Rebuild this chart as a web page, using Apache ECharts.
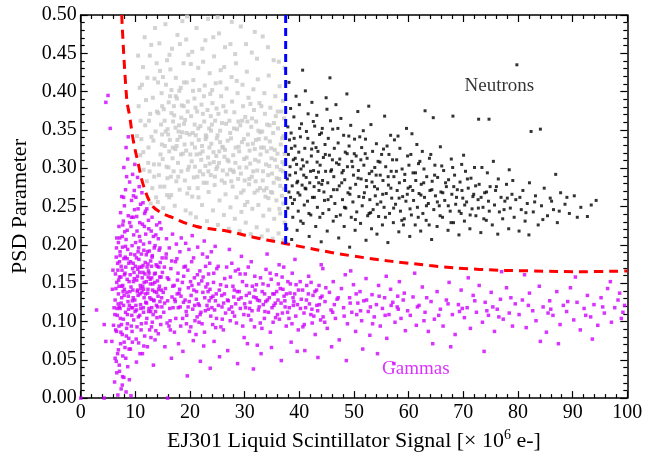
<!DOCTYPE html>
<html><head><meta charset="utf-8">
<script src="https://cdn.jsdelivr.net/npm/echarts@6/dist/echarts.min.js"></script>
<style>html,body{margin:0;padding:0;background:#fff}#c{width:651px;height:457px}</style>
</head><body><div id="c"></div>
<script>
// Gamma events (magenta)
var gammas = [[0,0],[4.3,0],[15.9,0],[2.9,.115],[4.3,.096],[4.6,.074],
[6.2,.021],[6.5,.048],[6.8,.004],[7.1,.035],[7.4,.012],[7.9,.027],[8.3,.008],[8.6,.041],[6.9,.063],[7.3,.071],[7.7,.055],[8.1,.066],[8.8,.078],[6.4,.089],[7.0,.094],[7.6,.083],[8.4,.091],[6.7,.108],[7.2,.117],[7.8,.103],[8.2,.112],[8.9,.121],[6.3,.128],[6.9,.136],[7.5,.131],[8.0,.142],[8.7,.133],[6.6,.151],[7.1,.158],[7.7,.147],[8.5,.155],[6.8,.167],[7.4,.172],[8.1,.163],[8.8,.176],[6.5,.184],[7.2,.191],[7.9,.182],[8.6,.194],[6.9,.203],[7.6,.211],[8.3,.207],[7.0,.224],[7.8,.231],[8.5,.219],[7.3,.242],[8.0,.251],[8.7,.238],[7.5,.263],[8.2,.272],[8.4,.289],[7.9,.301],[8.6,.312],[8.3,.327],[8.7,.341],[5.4,.352],[4.6,.386],[5.0,.395],[6.1,.118],[5.8,.142],[5.9,.167],[6.0,.095],[5.7,.074],[6.3,.052],[7.6,.017],[8.9,.024],[9.2,.003],[6.6,.033],[7.2,.186],[7.0,.146],[7.4,.124],[6.6,.209],[8.2,.198],[7.7,.226],
[9.1,.064],[9.4,.087],[9.7,.102],[9.3,.118],[9.6,.131],[9.2,.145],[9.8,.156],[9.5,.169],[9.1,.178],[9.9,.187],[9.4,.199],[9.7,.213],[9.2,.224],[9.6,.236],[9.3,.258],[9.8,.271],[9.5,.292],[9.9,.305],
[10.2,.047],[10.6,.072],[10.3,.093],[10.8,.108],[10.1,.121],[10.5,.134],[10.9,.147],[10.4,.159],[10.7,.171],[10.2,.183],[10.6,.196],[10.9,.205],[10.3,.218],[10.8,.229],[10.5,.247],[10.1,.262],[10.7,.276],[10.4,.288],
[11.3,.058],[11.7,.081],[11.1,.097],[11.5,.112],[11.9,.125],[11.2,.138],[11.6,.151],[11.4,.164],[11.8,.177],[11.1,.188],[11.5,.201],[11.9,.214],[11.3,.227],[11.7,.241],[11.4,.255],[11.2,.268],
[12.2,.067],[12.6,.089],[12.1,.104],[12.5,.117],[12.9,.129],[12.3,.142],[12.7,.155],[12.4,.166],[12.8,.179],[12.2,.191],[12.6,.203],[12.9,.218],[12.4,.232],[12.1,.247],
[13.3,.043],[13.6,.076],[13.1,.099],[13.7,.113],[13.4,.127],[13.9,.138],[13.2,.149],[13.5,.162],[13.8,.174],[13.1,.186],[13.6,.199],[13.3,.211],[13.9,.226],
[14.2,.084],[14.6,.106],[14.1,.119],[14.8,.131],[14.4,.146],[14.7,.158],[14.3,.171],[14.9,.183],[14.5,.196],[14.2,.208],[14.7,.221],
[9.3,.236],[10.4,.141],[11.6,.131],[12.8,.113],[9.9,.128],[10.8,.164],[11.4,.173],[12.0,.152],[13.0,.118],[9.6,.176],[10.2,.115],[11.0,.143],[12.3,.175],
[6.45,.143],[6.75,.176],[7.05,.119],[7.35,.158],[7.65,.197],[7.95,.134],[8.25,.171],[8.55,.109],[8.85,.152],[9.15,.188],[9.45,.127],[9.75,.164],[10.05,.203],[10.35,.139],[10.65,.181],[10.95,.122],[11.25,.157],[11.55,.193],[11.85,.136],[12.15,.171],[12.45,.113],[12.75,.149],[13.05,.184],[13.35,.128],[13.65,.163],[13.95,.105],[14.25,.142],[14.55,.177],[14.85,.119],
[6.55,.087],[6.85,.123],[7.15,.209],[7.45,.096],[7.75,.139],[8.05,.217],[8.35,.081],[8.65,.126],[8.95,.229],[9.25,.094],[9.55,.141],[9.85,.246],[10.15,.077],[10.45,.168],[10.75,.211],[11.05,.089],[11.35,.146],[11.65,.224],[11.95,.098],[12.25,.137],[12.55,.192],[12.85,.079],[13.15,.141],[13.45,.196],[13.75,.088],[14.05,.153],[14.35,.193],[14.65,.096],[14.95,.164],
[6.35,.162],[6.65,.117],[6.95,.154],[7.25,.104],[7.55,.167],[7.85,.121],[8.15,.184],[8.45,.138],[8.75,.116],[9.05,.161],[9.35,.108],[9.65,.152],[9.95,.113],[10.25,.154],[10.55,.106],[10.85,.136],[11.15,.171],[11.45,.118],[11.75,.162],[12.05,.124],[12.35,.158],[12.65,.131],[12.95,.172],[13.25,.109],[13.55,.151],[13.85,.121],[14.15,.133],[14.45,.158],[14.75,.141],
[6.75,.058],[7.05,.043],[7.35,.086],[7.65,.028],[7.95,.073],[8.25,.052],[8.55,.097],[8.85,.064],[9.45,.073],[10.85,.058],[11.55,.068],[12.95,.093],[6.25,.109],[6.55,.196],[7.85,.262],[8.95,.282],[9.65,.264],[10.25,.237],[10.95,.253],[11.85,.244],[12.45,.221],[13.05,.236],[13.75,.213],[14.45,.229],
[7.1,.178],[8.0,.161],[9.0,.139],[10.0,.172],[11.0,.117],[12.0,.187],[13.0,.157],[14.0,.172],[7.5,.146],[8.5,.182],[9.5,.118],[10.5,.191],[11.5,.142],[12.5,.163],[13.5,.139],[14.5,.126],
[15.2,.112],[15.5,.143],[15.8,.098],[15.3,.171],[15.9,.127],[16.1,.155],[16.4,.089],[16.7,.132],[16.2,.196],[16.9,.118],[17.1,.147],[17.4,.104],[17.8,.163],[17.3,.126],[17.6,.182],[18.0,.137],[18.3,.094],[18.6,.151],[18.2,.119],[18.9,.171],[19.1,.128],[19.4,.108],[19.7,.144],[19.2,.202],[19.9,.087],[20.2,.134],[20.5,.116],[20.8,.157],[20.3,.178],[20.9,.101],[21.2,.139],[21.5,.123],[21.8,.166],[21.1,.083],[21.6,.149],[22.0,.112],[22.3,.188],[22.7,.131],[22.2,.097],[22.9,.145],[23.1,.121],[23.4,.162],[23.8,.107],[23.3,.139],[23.6,.176],[24.0,.118],[24.3,.151],[24.7,.092],[24.2,.133],[24.9,.169],
[15.4,.067],[16.6,.052],[17.9,.071],[18.7,.061],[19.5,.029],[20.6,.075],[21.9,.048],[22.5,.068],[23.7,.039],[24.4,.074],[15.7,.208],[16.8,.214],[17.5,.201],[18.4,.209],[19.8,.194],[20.4,.212],[21.4,.197],[22.6,.205],[23.9,.191],[24.6,.198],[15.1,.138],[16.3,.117],[17.2,.129],[18.1,.142],[19.3,.113],[20.1,.152],[21.3,.106],[22.4,.158],[23.5,.127],[24.5,.115],[15.6,.183],[16.5,.169],[17.7,.154],[18.8,.125],[19.6,.167],[20.7,.141],[21.7,.121],[22.8,.114],[23.2,.149],[24.8,.136],
[15.35,.124],[15.85,.157],[16.35,.101],[16.85,.146],[17.35,.178],[17.85,.118],[18.35,.133],[18.85,.159],[19.35,.097],[19.85,.126],[20.35,.147],[20.85,.121],[21.35,.161],[21.85,.109],[22.35,.138],[22.85,.172],[23.35,.116],[23.85,.131],[24.35,.163],[24.85,.104],[25.35,.141],[25.85,.119],[26.35,.156],[26.85,.128],[27.35,.101],[27.85,.146],[28.35,.123],[28.85,.168],[29.35,.131],[29.85,.109],[30.35,.147],[30.85,.137],[31.35,.114],[31.85,.159],[32.35,.128],[32.85,.098],[33.35,.149],[33.85,.126],[34.35,.112],[34.85,.155],[35.35,.121],[35.85,.139],[36.35,.103],[36.85,.158],[37.35,.127],[37.85,.112],[38.35,.149],[38.85,.131],[39.35,.107],[39.85,.141],[40.35,.129],[40.85,.111],[41.35,.147],[41.85,.123],[42.35,.098],[42.85,.139],[43.35,.114],[43.85,.131],[44.35,.106],[44.85,.144],
[15.65,.188],[16.15,.094],[16.65,.179],[17.15,.086],[17.65,.136],[18.15,.191],[18.65,.104],[19.15,.172],[19.65,.119],[20.15,.093],[20.65,.183],[21.15,.129],[21.65,.099],[22.15,.153],[22.65,.086],[23.15,.184],[23.65,.142],[24.15,.096],[24.65,.127],[25.15,.172],[25.65,.093],[26.15,.124],[26.65,.146],[27.15,.116],[27.65,.176],[28.15,.107],[28.65,.139],[29.15,.162],[29.65,.094],[30.15,.118],[30.65,.171],[31.15,.102],[31.65,.132],[32.15,.148],[32.65,.119],[33.15,.091],[33.65,.136],[34.15,.128],[34.65,.163],[35.15,.136],[35.65,.105],[36.15,.149],[36.65,.124],[37.15,.171],[37.65,.136],[38.15,.118],[38.65,.097],[39.15,.136],[39.65,.122],[40.15,.152],[40.65,.093],[41.15,.118],[41.65,.136],[42.15,.151],[42.65,.107],[43.15,.141],[43.65,.122],[44.15,.133],[44.65,.099],
[25.2,.121],[25.6,.148],[25.9,.103],[26.3,.136],[26.7,.171],[26.1,.089],[27.0,.127],[27.4,.158],[27.8,.112],[27.2,.194],[28.1,.141],[28.5,.098],[28.9,.129],[28.3,.166],[29.2,.117],[29.6,.152],[29.9,.079],[29.4,.185],[30.3,.134],[30.7,.108],[30.1,.162],[31.0,.125],[31.4,.146],[31.8,.093],[31.2,.178],[32.1,.131],[32.5,.115],[32.9,.157],[32.3,.069],[33.2,.139],[33.6,.104],[33.9,.168],[33.4,.122],[34.3,.147],[34.7,.086],[34.1,.188],[35.0,.118],[35.4,.136],[35.8,.161],[35.2,.099],[36.1,.128],[36.5,.143],[36.9,.111],[36.3,.174],[37.2,.133],[37.6,.094],[37.9,.152],[37.4,.119],[38.3,.137],[38.7,.163],[38.1,.104],[39.0,.126],[39.4,.148],[39.8,.089],[39.2,.181],
[25.4,.054],[26.9,.062],[28.7,.045],[30.5,.071],[31.6,.038],[33.0,.058],[34.9,.066],[36.7,.049],[38.5,.073],[39.6,.061],[25.8,.134],[27.6,.119],[29.0,.139],[30.9,.117],[32.7,.127],[34.5,.131],[36.0,.109],[37.0,.142],[38.9,.121],[26.5,.111],[28.0,.132],[30.0,.123],[31.9,.141],[33.7,.113],[35.6,.124],
[40.2,.117],[40.6,.141],[40.9,.096],[41.3,.128],[41.7,.159],[42.1,.109],[42.5,.134],[42.9,.083],[43.2,.121],[43.6,.147],[43.9,.102],[44.3,.169],[44.7,.126],[45.1,.091],[45.5,.138],[45.8,.115],[46.2,.152],[46.6,.104],[46.9,.129],[47.3,.076],[47.7,.143],[48.1,.118],[48.4,.161],[48.8,.097],[49.2,.131],[49.6,.112],[49.9,.148],[50.3,.087],[50.7,.124],[51.1,.139],[51.4,.101],[51.8,.127],[52.2,.156],[52.6,.113],[52.9,.082],[53.3,.135],[53.7,.106],[54.1,.122],[54.5,.147],[54.8,.094],[55.2,.117],[55.6,.131],[56.0,.078],[56.4,.109],[56.7,.142],[57.1,.125],[57.5,.099],[57.9,.119],[58.3,.152],[58.6,.104],[59.0,.128],[59.4,.088],[59.8,.114],
[41.0,.062],[43.4,.053],[45.9,.067],[48.6,.049],[51.6,.064],[54.3,.058],[57.3,.045],[44.0,.174],[49.4,.166],[55.9,.159],[42.3,.116],[46.4,.122],[50.5,.109],[53.0,.119],[58.0,.133],
[46.1,.112],[47.1,.131],[48.2,.107],[49.3,.124],[50.4,.136],[51.2,.114],[52.3,.128],[53.4,.097],[54.6,.133],[55.7,.108],[56.8,.121],[58.1,.116],[59.2,.137],[61.6,.119],[63.3,.131],[65.5,.108],[67.2,.123],[69.8,.117],[72.1,.127],[74.3,.114],[76.5,.106],[78.7,.131],[81.9,.121],[85.5,.111],[89.1,.126],[92.4,.108],[95.5,.119],[98.6,.137],
[60.3,.108],[60.8,.132],[61.4,.095],[61.9,.121],[62.5,.145],[63.0,.112],[63.6,.087],[64.1,.126],[64.7,.103],[65.2,.139],[65.8,.116],[66.3,.094],[66.9,.128],[67.4,.151],[68.0,.109],[68.5,.083],[69.1,.122],[69.6,.141],[70.2,.105],[70.7,.118],[71.3,.091],[71.8,.134],[72.4,.112],[72.9,.147],[73.5,.099],[74.0,.125],[74.6,.108],[75.1,.138],[75.7,.087],[76.2,.116],[76.8,.129],[77.3,.103],[77.9,.144],[78.4,.111],[79.0,.094],[79.5,.123],
[61.1,.163],[64.4,.071],[67.7,.067],[70.9,.157],[73.8,.061],[77.0,.165],[62.8,.101],[69.3,.113],[75.4,.119],
[80.2,.109],[80.8,.128],[81.5,.092],[82.1,.137],[82.7,.114],[83.3,.101],[83.9,.146],[84.6,.119],[85.2,.086],[85.8,.127],[86.4,.108],[87.1,.139],[87.7,.096],[88.3,.121],[88.9,.113],[89.6,.144],[90.2,.102],[90.8,.125],[91.4,.089],[92.1,.117],[92.7,.134],[93.3,.106],[93.9,.122],[94.6,.095],[95.2,.131],[95.8,.111],[96.4,.143],[97.1,.099],[97.7,.118],[98.3,.128],[98.9,.104],[99.5,.121],
[81.2,.161],[84.1,.074],[87.4,.071],[90.5,.158],[93.6,.077],[96.9,.152],[99.2,.112],[86.0,.116]];

// Events left of the energy cut (grey)
var lowEnergy = [[10.3,.342],[10.6,.381],[10.9,.317],[11.2,.409],[10.5,.447],[11.5,.298],[11.8,.356],[11.4,.432],[12.1,.283],[12.4,.327],[12.7,.371],[12.2,.418],[12.9,.461],[13.1,.274],[13.4,.305],[13.7,.348],[13.2,.392],[13.9,.437],[13.6,.483],[12.6,.296],[11.1,.338],[12.8,.254],[13.8,.262],[11.7,.471],[10.8,.405],[13.3,.336],[12.5,.362],[13.5,.417],
[14.1,.256],[14.3,.291],[14.6,.318],[14.9,.344],[14.2,.372],[14.8,.398],[14.5,.427],[14.4,.463],[15.1,.248],[15.3,.276],[15.7,.302],[15.4,.329],[15.9,.351],[15.2,.377],[15.6,.409],[15.8,.441],[15.5,.488],[16.2,.262],[16.5,.289],[16.8,.313],[16.3,.337],[16.9,.361],[16.1,.386],[16.6,.402],[16.4,.429],[16.7,.456],[17.2,.251],[17.5,.283],[17.8,.307],[17.3,.325],[17.9,.348],[17.1,.369],[17.6,.391],[17.4,.418],[17.7,.474],[18.1,.272],[18.4,.296],[18.7,.319],[18.2,.341],[18.9,.358],[18.5,.382],[18.3,.405],[18.8,.437],[18.6,.492],[19.2,.245],[19.5,.267],[19.8,.302],[19.3,.323],[19.9,.344],[19.1,.363],[19.6,.387],[19.4,.412],[19.7,.448],[15.0,.312],[16.0,.344],[17.0,.296],[18.0,.356],[19.0,.331],[14.7,.357],[16.6,.372],[17.7,.337],[18.4,.366],[19.6,.298],[15.8,.265],[17.4,.394],[18.9,.412],[16.2,.322],[14.9,.381],[19.3,.468],
[20.1,.241],[20.4,.263],[20.7,.288],[20.3,.309],[20.9,.327],[20.5,.346],[20.2,.368],[20.8,.391],[20.6,.415],[20.4,.452],[21.1,.236],[21.4,.274],[21.8,.296],[21.2,.318],[21.6,.337],[21.9,.355],[21.3,.374],[21.7,.402],[21.5,.431],[21.2,.483],[22.2,.252],[22.5,.281],[22.8,.303],[22.3,.322],[22.9,.343],[22.6,.361],[22.1,.383],[22.7,.408],[22.4,.439],[22.8,.467],[23.1,.231],[23.4,.269],[23.8,.291],[23.3,.314],[23.9,.332],[23.5,.352],[23.2,.376],[23.7,.397],[23.6,.424],[23.3,.495],[24.2,.245],[24.5,.278],[24.8,.299],[24.3,.321],[24.9,.339],[24.6,.362],[24.1,.385],[24.7,.411],[24.4,.446],[25.1,.226],[25.4,.258],[25.8,.284],[25.3,.307],[25.9,.328],[25.5,.349],[25.2,.371],[25.7,.394],[25.6,.428],[25.3,.476],[26.2,.239],[26.5,.266],[26.8,.292],[26.3,.315],[26.9,.336],[26.6,.358],[26.1,.381],[26.7,.404],[26.4,.458],[20.9,.302],[21.5,.352],[22.4,.292],[23.0,.341],[23.6,.306],[24.0,.357],[24.8,.316],[25.5,.334],[26.0,.297],[21.0,.379],[22.2,.329],[23.8,.368],[25.0,.302],[26.4,.324],
[27.1,.221],[27.4,.249],[27.8,.276],[27.3,.298],[27.9,.317],[27.5,.339],[27.2,.362],[27.7,.387],[27.6,.419],[27.4,.462],[28.2,.234],[28.5,.262],[28.8,.286],[28.3,.307],[28.9,.328],[28.6,.351],[28.1,.373],[28.7,.398],[28.4,.437],[29.1,.218],[29.4,.243],[29.8,.271],[29.3,.293],[29.9,.312],[29.5,.334],[29.2,.356],[29.7,.381],[29.6,.409],[29.3,.485],[30.2,.229],[30.5,.256],[30.8,.279],[30.3,.301],[30.9,.323],[30.6,.344],[30.1,.367],[30.7,.392],[30.4,.426],[31.1,.214],[31.4,.247],[31.8,.268],[31.3,.289],[31.9,.311],[31.5,.332],[31.2,.354],[31.7,.376],[31.6,.403],[31.3,.451],[32.2,.223],[32.5,.252],[32.8,.274],[32.3,.297],[32.9,.318],[32.6,.338],[32.1,.361],[32.7,.385],[32.4,.416],[33.1,.211],[33.4,.238],[33.8,.263],[33.3,.284],[33.9,.305],[33.5,.327],[33.2,.348],[33.7,.371],[33.6,.398],[33.3,.472],[34.2,.219],[34.5,.246],[34.8,.269],[34.3,.291],[34.9,.313],[34.6,.335],[34.1,.357],[34.7,.379],[34.4,.421],[35.1,.208],[35.4,.234],[35.8,.258],[35.3,.281],[35.9,.302],[35.5,.324],[35.2,.346],[35.7,.368],[35.6,.394],[35.3,.441],[36.2,.215],[36.5,.241],[36.8,.264],[36.3,.286],[36.9,.308],[36.6,.331],[36.1,.352],[36.7,.374],[36.4,.407],[37.1,.206],[37.3,.229],[37.2,.273],[37.0,.296],[37.3,.319],[37.1,.342],[37.2,.365],[37.0,.388],[37.3,.431],[28.0,.295],[29.0,.322],[30.0,.284],[31.0,.306],[32.0,.283],[33.0,.327],[34.0,.274],[35.0,.293],[36.0,.319],[30.5,.361],[32.5,.349],[34.5,.303],[36.5,.277],
[14.35,.305],[14.85,.331],[15.35,.362],[15.85,.287],[16.35,.394],[16.85,.327],[17.35,.353],[17.85,.289],[18.35,.318],[18.85,.381],[19.35,.346],[19.85,.274],[20.35,.332],[20.85,.357],[21.35,.289],[21.85,.319],[22.35,.371],[22.85,.338],[23.35,.296],[23.85,.349],[24.35,.308],[24.85,.378],[25.35,.322],[25.85,.359],[26.35,.281],[26.85,.311],[27.35,.346],[27.85,.297],[28.35,.327],[28.85,.361],[29.35,.268],[29.85,.338],[30.35,.314],[30.85,.286],[31.35,.365],[31.85,.325],[32.35,.271],[32.85,.347],[33.35,.296],[33.85,.339],[34.35,.261],[34.85,.326],[35.35,.359],[35.85,.287],[36.35,.247],[36.85,.339],[37.25,.305],
[14.55,.276],[15.05,.419],[15.55,.348],[16.05,.301],[16.55,.265],[17.05,.381],[17.55,.329],[18.05,.401],[18.55,.347],[19.05,.284],[19.55,.374],[20.05,.318],[20.55,.401],[21.05,.343],[21.55,.262],[22.05,.311],[22.55,.394],[23.05,.281],[23.55,.327],[24.05,.402],[24.55,.289],[25.05,.343],[25.55,.412],[26.05,.327],[26.55,.374],[27.05,.309],[27.55,.283],[28.05,.352],[28.55,.414],[29.05,.301],[29.55,.362],[30.05,.252],[30.55,.331],[31.05,.384],[31.55,.296],[32.05,.337],[32.55,.309],[33.05,.381],[33.55,.271],[34.05,.322],[34.55,.356],[35.05,.268],[35.55,.311],[36.05,.374],[36.55,.298],[37.05,.254],
[12.35,.307],[12.95,.341],[13.45,.289],[13.95,.374],[11.95,.389],[11.45,.321],[10.95,.362],[12.65,.447],[14.15,.412],[16.25,.448],[18.15,.462],[20.15,.436],[22.25,.456],[24.25,.471],[26.25,.432],[28.25,.449],[30.25,.462],[32.25,.443],[34.25,.458],[36.25,.439],[19.45,.498],[27.65,.491],[31.85,.478],[25.05,.497]];

// Neutron events (black)
var neutrons = [[37.7,.221],[37.9,.248],[38.1,.269],[37.8,.286],[38.3,.302],[38.0,.318],[38.2,.337],[37.9,.354],[38.4,.378],[38.1,.412],[38.6,.207],[38.8,.236],[39.1,.259],[38.7,.277],[39.3,.294],[38.9,.311],[39.2,.329],[38.5,.346],[39.0,.367],[39.4,.394],[39.6,.219],[39.8,.244],[40.1,.265],[39.7,.283],[40.3,.299],[39.9,.321],[40.2,.341],[40.4,.358],[40.0,.383],[40.6,.428],[40.7,.228],[40.9,.252],[41.2,.273],[40.8,.291],[41.4,.308],[41.0,.326],[41.3,.348],[41.6,.371],[41.1,.401],[41.8,.211],[42.1,.239],[42.4,.262],[41.9,.281],[42.6,.297],[42.2,.316],[42.5,.333],[42.8,.355],[42.3,.386],[43.0,.224],[43.3,.249],[43.6,.271],[43.1,.288],[43.8,.304],[43.4,.322],[43.7,.344],[43.2,.369],[44.0,.204],[44.3,.241],[44.6,.258],[44.1,.279],[44.8,.296],[44.4,.314],[44.7,.331],[44.2,.352],[44.9,.392],[38.4,.262],[39.5,.305],[40.5,.278],[41.5,.257],[42.7,.276],[43.5,.295],[44.5,.269],
[45.1,.218],[45.4,.246],[45.8,.263],[45.2,.281],[45.9,.298],[45.5,.317],[45.3,.339],[45.7,.362],[45.6,.418],[46.2,.231],[46.5,.254],[46.9,.272],[46.3,.289],[46.8,.307],[46.4,.326],[46.1,.351],[46.7,.383],[47.2,.209],[47.5,.239],[47.9,.259],[47.3,.277],[47.8,.294],[47.4,.312],[47.1,.333],[47.6,.365],[48.2,.224],[48.5,.248],[48.9,.268],[48.3,.285],[48.8,.302],[48.4,.321],[48.1,.343],[48.7,.397],[49.2,.197],[49.5,.236],[49.8,.256],[49.3,.274],[49.9,.291],[49.6,.309],[49.1,.329],[49.4,.356],[50.2,.219],[50.5,.243],[50.9,.263],[50.3,.279],[50.8,.297],[50.4,.316],[50.1,.338],[50.7,.374],[51.2,.228],[51.5,.251],[51.9,.268],[51.3,.286],[51.8,.304],[51.4,.327],[51.7,.349],[52.2,.206],[52.5,.238],[52.9,.259],[52.3,.276],[52.8,.293],[52.4,.313],[52.1,.338],[52.7,.381],[53.2,.221],[53.5,.246],[53.9,.264],[53.3,.282],[53.8,.301],[53.4,.322],[53.1,.357],[54.2,.214],[54.5,.237],[54.9,.256],[54.3,.273],[54.8,.291],[54.4,.309],[54.1,.332],[55.2,.226],[55.5,.249],[55.9,.267],[55.3,.284],[55.8,.302],[55.4,.325],[55.6,.368],[56.2,.203],[56.5,.241],[56.9,.261],[56.3,.278],[56.8,.296],[56.4,.318],[56.7,.343],[57.2,.229],[57.6,.253],[57.9,.271],[57.3,.289],[57.8,.311],[57.4,.337],[58.2,.217],[58.5,.244],[58.9,.263],[58.3,.281],[58.8,.299],[58.4,.326],[59.2,.234],[59.5,.257],[59.9,.274],[59.3,.292],[59.8,.316],[59.6,.352],
[60.2,.211],[60.5,.239],[60.9,.258],[60.3,.276],[60.8,.294],[60.4,.318],[60.6,.345],[61.2,.226],[61.6,.249],[61.9,.267],[61.3,.284],[61.8,.306],[61.5,.331],[62.2,.218],[62.6,.241],[62.9,.262],[62.3,.279],[62.8,.299],[62.5,.322],[63.2,.232],[63.6,.254],[63.9,.271],[63.3,.289],[63.8,.313],[63.0,.375],[64.2,.207],[64.6,.246],[64.9,.264],[64.3,.283],[64.8,.304],[64.5,.366],[65.2,.224],[65.6,.251],[65.9,.269],[65.3,.288],[65.8,.328],[66.2,.236],[66.6,.258],[66.9,.276],[66.4,.297],[67.2,.219],[67.6,.244],[67.9,.266],[67.3,.285],[67.8,.312],[68.1,.368],[68.2,.229],[68.6,.253],[68.9,.272],[68.4,.291],[69.2,.213],[69.6,.241],[69.9,.261],[69.4,.282],[69.7,.305],[70.2,.231],[70.6,.256],[70.9,.274],[70.4,.296],[71.2,.221],[71.6,.247],[71.9,.266],[71.4,.287],[72.8,.364],[72.3,.238],[72.7,.259],[72.9,.279],[73.2,.216],[73.6,.249],[73.9,.268],[73.4,.301],[74.7,.364],[74.2,.232],[74.6,.257],[74.9,.276],[74.4,.294],
[75.3,.226],[75.7,.252],[75.9,.271],[75.5,.309],[76.3,.214],[76.6,.243],[76.9,.262],[76.4,.286],[77.2,.234],[77.6,.257],[77.9,.279],[78.3,.221],[78.6,.248],[78.9,.266],[78.4,.298],[79.3,.236],[79.6,.259],[79.8,.435],[80.2,.218],[80.6,.246],[80.9,.271],[81.3,.231],[81.7,.254],[82.1,.281],[82.4,.348],[82.8,.243],[83.2,.264],[83.7,.226],[84.1,.351],[84.3,.251],[84.8,.274],[85.4,.238],[85.9,.261],[86.5,.246],[87.2,.229],[87.8,.268],[88.6,.253],[89.4,.241],[90.3,.264],[91.5,.249],[92.7,.237],[94.3,.258],[86.9,.292],[82.0,.213],
[38.25,.291],[38.75,.254],[39.25,.313],[39.75,.268],[40.25,.231],[40.75,.303],[41.25,.288],[41.75,.241],[42.25,.325],[42.75,.262],[43.25,.308],[43.75,.236],[44.25,.284],[44.75,.318],[45.25,.259],[45.75,.296],[46.25,.272],[46.75,.237],[47.25,.305],[47.75,.281],[48.25,.249],[48.75,.319],[49.25,.266],[49.75,.302],[50.25,.233],[50.75,.287],[51.25,.311],[51.75,.262],[52.25,.284],[52.75,.241],[53.25,.296],[53.75,.276],[54.25,.253],[54.75,.308],[55.25,.266],[55.75,.236],[56.25,.289],[56.75,.274],[57.25,.248],[57.75,.296],[58.25,.261],[58.75,.232],[59.25,.284],[59.75,.266],[60.25,.247],[60.75,.271],[61.25,.294],[61.75,.236],[62.25,.265],[62.75,.281],[63.25,.251],[63.75,.226],[64.25,.272],[64.75,.291],[65.25,.256],[65.75,.238],[66.25,.268],[66.75,.281],[67.25,.251],[67.75,.229],[68.25,.276],[68.75,.262],[69.25,.244],[69.75,.271],[70.25,.252],[70.75,.286],[71.25,.239],[71.75,.263],[72.25,.277],[72.75,.248],[73.25,.262],[73.75,.234],[74.25,.269],[74.75,.244],
[38.55,.326],[39.05,.339],[39.55,.281],[40.05,.352],[40.55,.311],[41.05,.274],[41.55,.339],[42.05,.296],[42.55,.361],[43.05,.327],[43.55,.281],[44.05,.346],[45.05,.377],[46.05,.311],[47.05,.352],[48.05,.297],[49.05,.342],[50.05,.319],[51.05,.341],[52.05,.319],[53.05,.242],[54.05,.291],[55.05,.318],[56.05,.329],[57.05,.311],[58.05,.342],[59.05,.226],[60.05,.304],[62.05,.309],[64.05,.318],[66.05,.303],[68.05,.301],[70.05,.317],[72.05,.301],[76.05,.276],[77.45,.246],[78.05,.261],[79.05,.284],[80.35,.262],[81.45,.242],[83.05,.256],[84.55,.233],[86.15,.257],[87.55,.244],[88.95,.262],[90.85,.236],[93.4,.252]];

// Discrimination curve (red dashed) and energy cut (blue dashed)
var cutX = [7.5,8.4,9.0,9.6,10.5,11.5,13.0,14.5,16.3,21.2,26.7,31.6,36.5,49.3,63.9,73.0,82.2,92.0,100];
var cutY = [.500,.392,.366,.337,.307,.277,.252,.243,.237,.224,.218,.210,.203,.186,.173,.168,.166,.165,.166];
var energyCutX = [37.5,37.5];
var energyCutY = [.201,.500];

var xTicks = [0,10,20,30,40,50,60,70,80,90,100];
var yTicks = [0,.05,.10,.15,.20,.25,.30,.35,.40,.45,.50];
var labels = [{text:'Neutrons', x:76.6, y:.407, color:'#000000'},{text:'Gammas', x:61.3, y:.038, color:'#d000ff'}];

var FONT = 'Liberation Serif';
var chart = echarts.init(document.getElementById('c'), null, {renderer:'canvas'});
function zip(a,b){return a.map(function(v,i){return [v,b[i]];});}
var tickStyle = {show:true, inside:true, length:7, lineStyle:{color:'#000',width:1.2}};
var minorStyle = {show:true, splitNumber:5, length:4, lineStyle:{color:'#000',width:1.2}};
var lineSty = {show:true, onZero:false, lineStyle:{color:'#000', width:1.5}};
var option = {
  animation:false,
  backgroundColor:'#fff',
  grid:{left:80.7, top:15, right:23.7, bottom:49},
  xAxis:[{type:'value', min:xTicks[0], max:xTicks[xTicks.length-1], interval:10, position:'bottom',
    axisLine:lineSty, axisTick:tickStyle, minorTick:minorStyle, splitLine:{show:false},
    axisLabel:{fontFamily:FONT, fontSize:20, color:'#000', margin:5},
    name:'EJ301 Liquid Scintillator Signal [\u00d7 10{sup|6} e-]', nameLocation:'middle', nameGap:28,
    nameTextStyle:{fontFamily:FONT, fontSize:22, color:'#000', rich:{sup:{fontFamily:FONT, fontSize:14, color:'#000', padding:[0,0,12,0]}}}},
    {type:'value', min:xTicks[0], max:xTicks[xTicks.length-1], interval:10, position:'top',
    axisLine:lineSty, axisTick:tickStyle, minorTick:minorStyle, splitLine:{show:false}, axisLabel:{show:false}}],
  yAxis:[{type:'value', min:yTicks[0], max:yTicks[yTicks.length-1], interval:0.05, position:'left',
    axisLine:lineSty, axisTick:tickStyle, minorTick:minorStyle, splitLine:{show:false},
    axisLabel:{fontFamily:FONT, fontSize:20, color:'#000', margin:4, formatter:function(v){return v.toFixed(2);}},
    name:'PSD Parameter', nameLocation:'middle', nameGap:46, nameRotate:90,
    nameTextStyle:{fontFamily:FONT, fontSize:22, color:'#000'}},
    {type:'value', min:yTicks[0], max:yTicks[yTicks.length-1], interval:0.05, position:'right',
    axisLine:lineSty, axisTick:tickStyle, minorTick:minorStyle, splitLine:{show:false}, axisLabel:{show:false}}],
  series:[
    {type:'scatter', data:lowEnergy, symbol:'rect', symbolSize:4, itemStyle:{color:'#c8c8c8'}, silent:true},
    {type:'scatter', data:neutrons, symbol:'rect', symbolSize:3, itemStyle:{color:'#000000'}, silent:true},
    {type:'scatter', data:gammas, symbol:'rect', symbolSize:3.5, itemStyle:{color:'#d000ff'}, silent:true},
    {type:'line', data:zip(cutX,cutY), smooth:0.4, symbol:'none', silent:true, z:5,
      lineStyle:{color:'#ff0000', width:3, type:[9,6]}},
    {type:'line', data:zip(energyCutX,energyCutY), symbol:'none', silent:true, z:5,
      lineStyle:{color:'#0000ff', width:3, type:[8,5]}},
    {type:'scatter', data:labels.map(function(l){return {value:[l.x,l.y], label:{show:true, formatter:l.text, color:l.color}};}),
      symbolSize:0, silent:true, z:6,
      label:{position:'inside', fontFamily:FONT, fontSize:19}}
  ]
};
chart.setOption(option);
</script>
</body></html>
